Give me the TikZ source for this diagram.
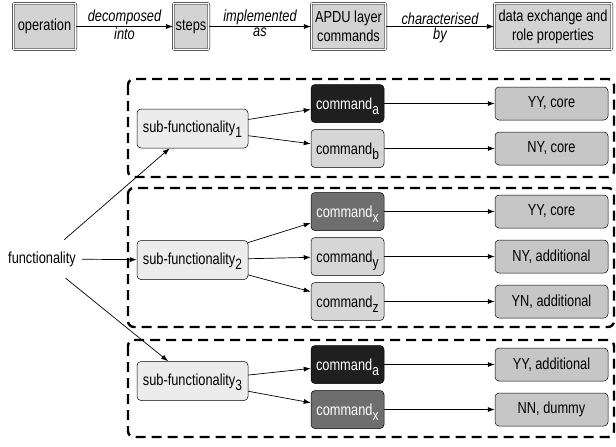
\documentclass[tikz,border=0pt]{standalone}
\usepackage{fontspec}
\setmainfont{Liberation Sans}[FakeStretch=0.8]
\usetikzlibrary{arrows.meta}
\definecolor{topgray}{HTML}{D3D3D3}
\definecolor{subgray}{HTML}{ECECEC}
\definecolor{cmdblk}{HTML}{1F1F1F}
\definecolor{cmddrk}{HTML}{6E6E6E}
\definecolor{cmdlgt}{HTML}{D6D6D6}
\definecolor{propgray}{HTML}{C6C6C6}
\newcommand\ssub[1]{\raisebox{-5pt}[0pt][0pt]{\fontsize{15}{15}\selectfont #1}}
\begin{document}
\begin{tikzpicture}[x=1pt,y=-1pt,
  every node/.style={font=\fontsize{16}{19}\selectfont},
  topbox/.style={draw, double, double distance=1.4pt, line width=0.5pt, fill=topgray, rounded corners=2pt, minimum height=46.5pt, inner sep=1pt, align=center},
  subbox/.style={draw, line width=0.5pt, fill=subgray, rounded corners=4pt, minimum width=111pt, minimum height=39pt, inner sep=2pt},
  cmdbox/.style={draw, line width=0.5pt, rounded corners=4pt, minimum width=73pt, minimum height=38pt, inner sep=2pt},
  cmdblack/.style={cmdbox, fill=cmdblk, text=white},
  cmddark/.style={cmdbox, fill=cmddrk, text=white},
  cmdlight/.style={cmdbox, fill=cmdlgt},
  propbox/.style={draw, line width=0.5pt, fill=propgray, rounded corners=4pt, minimum width=113pt, minimum height=33pt, inner sep=2pt},
  grp/.style={draw, dash pattern=on 10pt off 6pt, line width=2.4pt, rounded corners=6pt},
  arr/.style={-{Latex[length=7pt,width=5pt]}, line width=0.7pt},
  lbl/.style={font=\fontsize{16}{19}\selectfont\itshape, inner sep=1pt}
]
\useasboundingbox (0,0) rectangle (616,447);

% top legend row
\node[topbox, minimum width=62.6pt] (op) at (44.5,26.5) {operation};
\node[topbox, minimum width=35.6pt] (steps) at (191,26.5) {steps};
\node[topbox, minimum width=74.6pt] (apdu) at (348.5,26.5) {APDU layer\\commands};
\node[topbox, minimum width=117.6pt] (data) at (553,26.5) {data exchange and\\role properties};
\draw[arr] (op) -- node[lbl,above]{decomposed} node[lbl,below]{into} (steps);
\draw[arr] (steps) -- node[lbl,above]{implemented} node[lbl,below]{as} (apdu);
\draw[arr] (apdu) -- node[lbl,above]{characterised} node[lbl,below]{by} (data);

% groups
\draw[grp] (128,79) rectangle (614,177);
\draw[grp] (128,188) rectangle (614,327);
\draw[grp] (128,340) rectangle (614,437);

% functionality
\node[minimum width=80pt, minimum height=38pt, inner sep=2pt] (fun) at (42,259) {functionality};

% group 1
\node[subbox] (s1) at (192.5,128.5) {sub-functionality\ssub{1}};
\node[cmdblack] (c1a) at (347.5,103.5) {command\ssub{a}};
\node[cmdlight] (c1b) at (347.5,148.5) {command\ssub{b}};
\node[propbox] (p1a) at (551.5,103.5) {YY, core};
\node[propbox] (p1b) at (551.5,148.5) {NY, core};

% group 2
\node[subbox] (s2) at (192.5,260) {sub-functionality\ssub{2}};
\node[cmddark] (c2x) at (347.5,211.5) {command\ssub{x}};
\node[cmdlight] (c2y) at (347.5,256.5) {command\ssub{y}};
\node[cmdlight] (c2z) at (347.5,301.5) {command\ssub{z}};
\node[propbox] (p2x) at (551.5,211.5) {YY, core};
\node[propbox] (p2y) at (551.5,256.5) {NY, additional};
\node[propbox] (p2z) at (551.5,301.5) {YN, additional};

% group 3
\node[subbox] (s3) at (192.5,381) {sub-functionality\ssub{3}};
\node[cmdblack] (c3a) at (347.5,364.5) {command\ssub{a}};
\node[cmddark] (c3x) at (347.5,409.5) {command\ssub{x}};
\node[propbox] (p3a) at (551.5,364.5) {YY, additional};
\node[propbox] (p3x) at (551.5,409.5) {NN, dummy};

% connectors
\draw[arr] (fun) -- (s1);
\draw[arr] (fun) -- (s2);
\draw[arr] (fun) -- (s3);
\draw[arr] (s1) -- (c1a);
\draw[arr] (s1) -- (c1b);
\draw[arr] (s2) -- (c2x);
\draw[arr] (s2) -- (c2y);
\draw[arr] (s2) -- (c2z);
\draw[arr] (s3) -- (c3a);
\draw[arr] (s3) -- (c3x);
\draw[arr] (c1a) -- (p1a);
\draw[arr] (c1b) -- (p1b);
\draw[arr] (c2x) -- (p2x);
\draw[arr] (c2y) -- (p2y);
\draw[arr] (c2z) -- (p2z);
\draw[arr] (c3a) -- (p3a);
\draw[arr] (c3x) -- (p3x);
\end{tikzpicture}
\end{document}
